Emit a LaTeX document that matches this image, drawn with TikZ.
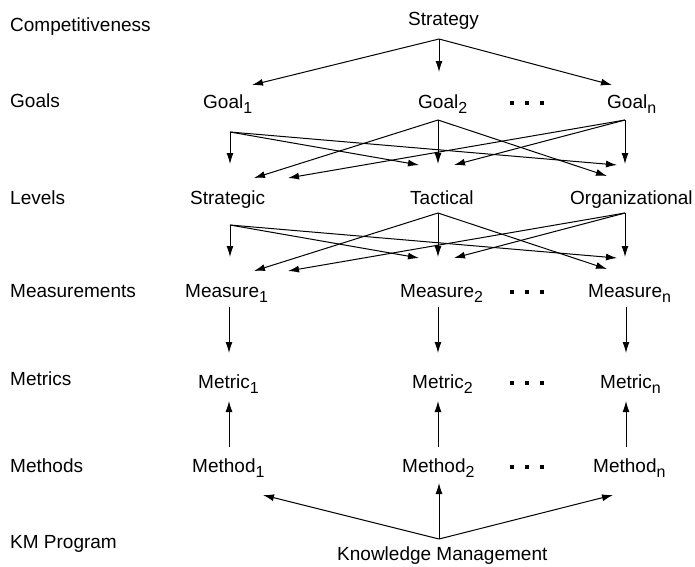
\documentclass[tikz,border=0pt]{standalone}
\usepackage{fontspec}
\setmainfont{Liberation Sans}
\usetikzlibrary{arrows.meta}
\newcommand{\lsub}[1]{\raisebox{-5pt}{\fontsize{16}{16}\selectfont #1}}
\begin{document}
\begin{tikzpicture}[x=1pt,y=-1pt,
  lbl/.style={anchor=base west,inner sep=0pt,font=\fontsize{19}{19}\selectfont},
  conn/.style={line width=1pt,-{Latex[length=11pt,width=7pt]}},
  dotsq/.style={fill=black,inner sep=0pt,minimum size=3.5pt,rectangle}]
\fill[white] (0,0) rectangle (695,566);
\useasboundingbox (0,0) rectangle (695,566);

% left labels
\node[lbl] (Lcomp) at (10,31) {Competitiveness};
\node[lbl] (Lgoals) at (10,107) {Goals};
\node[lbl] (Llev) at (10,204) {Levels};
\node[lbl] (Lmeas) at (10,297) {Measurements};
\node[lbl] (Lmetr) at (10,385) {Metrics};
\node[lbl] (Lmeth) at (10,472) {Methods};
\node[lbl] (Lkm) at (10,548) {KM Program};

% main nodes
\node[lbl] (strat) at (408,25) {Strategy};
\node[lbl] (g1) at (203,108) {Goal\lsub{1}};
\node[lbl] (g2) at (418,108) {Goal\lsub{2}};
\node[lbl] (gn) at (607,108) {Goal\lsub{n}};
\node[lbl] (lS) at (190,204) {Strategic};
\node[lbl] (lT) at (410,204) {Tactical};
\node[lbl] (lO) at (570,204) {Organizational};
\node[lbl] (ms1) at (185,297) {Measure\lsub{1}};
\node[lbl] (ms2) at (400,297) {Measure\lsub{2}};
\node[lbl] (msn) at (588,297) {Measure\lsub{n}};
\node[lbl] (mt1) at (198,388) {Metric\lsub{1}};
\node[lbl] (mt2) at (412,388) {Metric\lsub{2}};
\node[lbl] (mtn) at (600,388) {Metric\lsub{n}};
\node[lbl] (md1) at (192,472) {Method\lsub{1}};
\node[lbl] (md2) at (402,472) {Method\lsub{2}};
\node[lbl] (mdn) at (593,472) {Method\lsub{n}};
\node[lbl] (km) at (337,560) {Knowledge Management};

% dots
\foreach \r/\y in {g/103,m/292,t/383,d/467}{
  \node[dotsq] (\r dA) at (512,\y) {};
  \node[dotsq] (\r dB) at (527,\y) {};
  \node[dotsq] (\r dC) at (542,\y) {};
}

% Strategy -> Goals
\coordinate (sv) at (439,39);
\coordinate (sg1) at (252,85);
\coordinate (sg2) at (439,72);
\coordinate (sgn) at (612,85);
\draw[conn] (sv) -- (sg1);
\draw[conn] (sv) -- (sg2);
\draw[conn] (sv) -- (sgn);

% Goals -> Levels and Levels -> Measures
\foreach \o/\p in {0/G,93/L}{
  \coordinate (\p v1) at (230,132+\o);
  \coordinate (\p v2) at (438,120+\o);
  \coordinate (\p vn) at (625,120+\o);
  \coordinate (\p a11) at (230,164+\o);
  \coordinate (\p a12) at (419,165+\o);
  \coordinate (\p a13) at (617,165+\o);
  \coordinate (\p a21) at (254,178+\o);
  \coordinate (\p a22) at (438,164+\o);
  \coordinate (\p a23) at (607,176+\o);
  \coordinate (\p an1) at (288,178+\o);
  \coordinate (\p an2) at (454,165+\o);
  \coordinate (\p an3) at (625,164+\o);
  \draw[conn] (\p v1) -- (\p a11);
  \draw[conn] (\p v1) -- (\p a12);
  \draw[conn] (\p v1) -- (\p a13);
  \draw[conn] (\p v2) -- (\p a21);
  \draw[conn] (\p v2) -- (\p a22);
  \draw[conn] (\p v2) -- (\p a23);
  \draw[conn] (\p vn) -- (\p an1);
  \draw[conn] (\p vn) -- (\p an2);
  \draw[conn] (\p vn) -- (\p an3);
}

% Measures -> Metrics, Methods -> Metrics
\foreach \i/\x in {1/229,2/438,n/626}{
  \coordinate (msb\i) at (\x,307);
  \coordinate (mtt\i) at (\x,353);
  \coordinate (mdt\i) at (\x,447);
  \coordinate (mtb\i) at (\x,401);
  \draw[conn] (msb\i) -- (mtt\i);
  \draw[conn] (mdt\i) -- (mtb\i);
}

% Knowledge Management -> Methods
\coordinate (kv) at (439,539);
\coordinate (k1) at (263,495);
\coordinate (k2) at (439,483);
\coordinate (kn) at (613,495);
\draw[conn] (kv) -- (k1);
\draw[conn] (kv) -- (k2);
\draw[conn] (kv) -- (kn);
\end{tikzpicture}
\end{document}
